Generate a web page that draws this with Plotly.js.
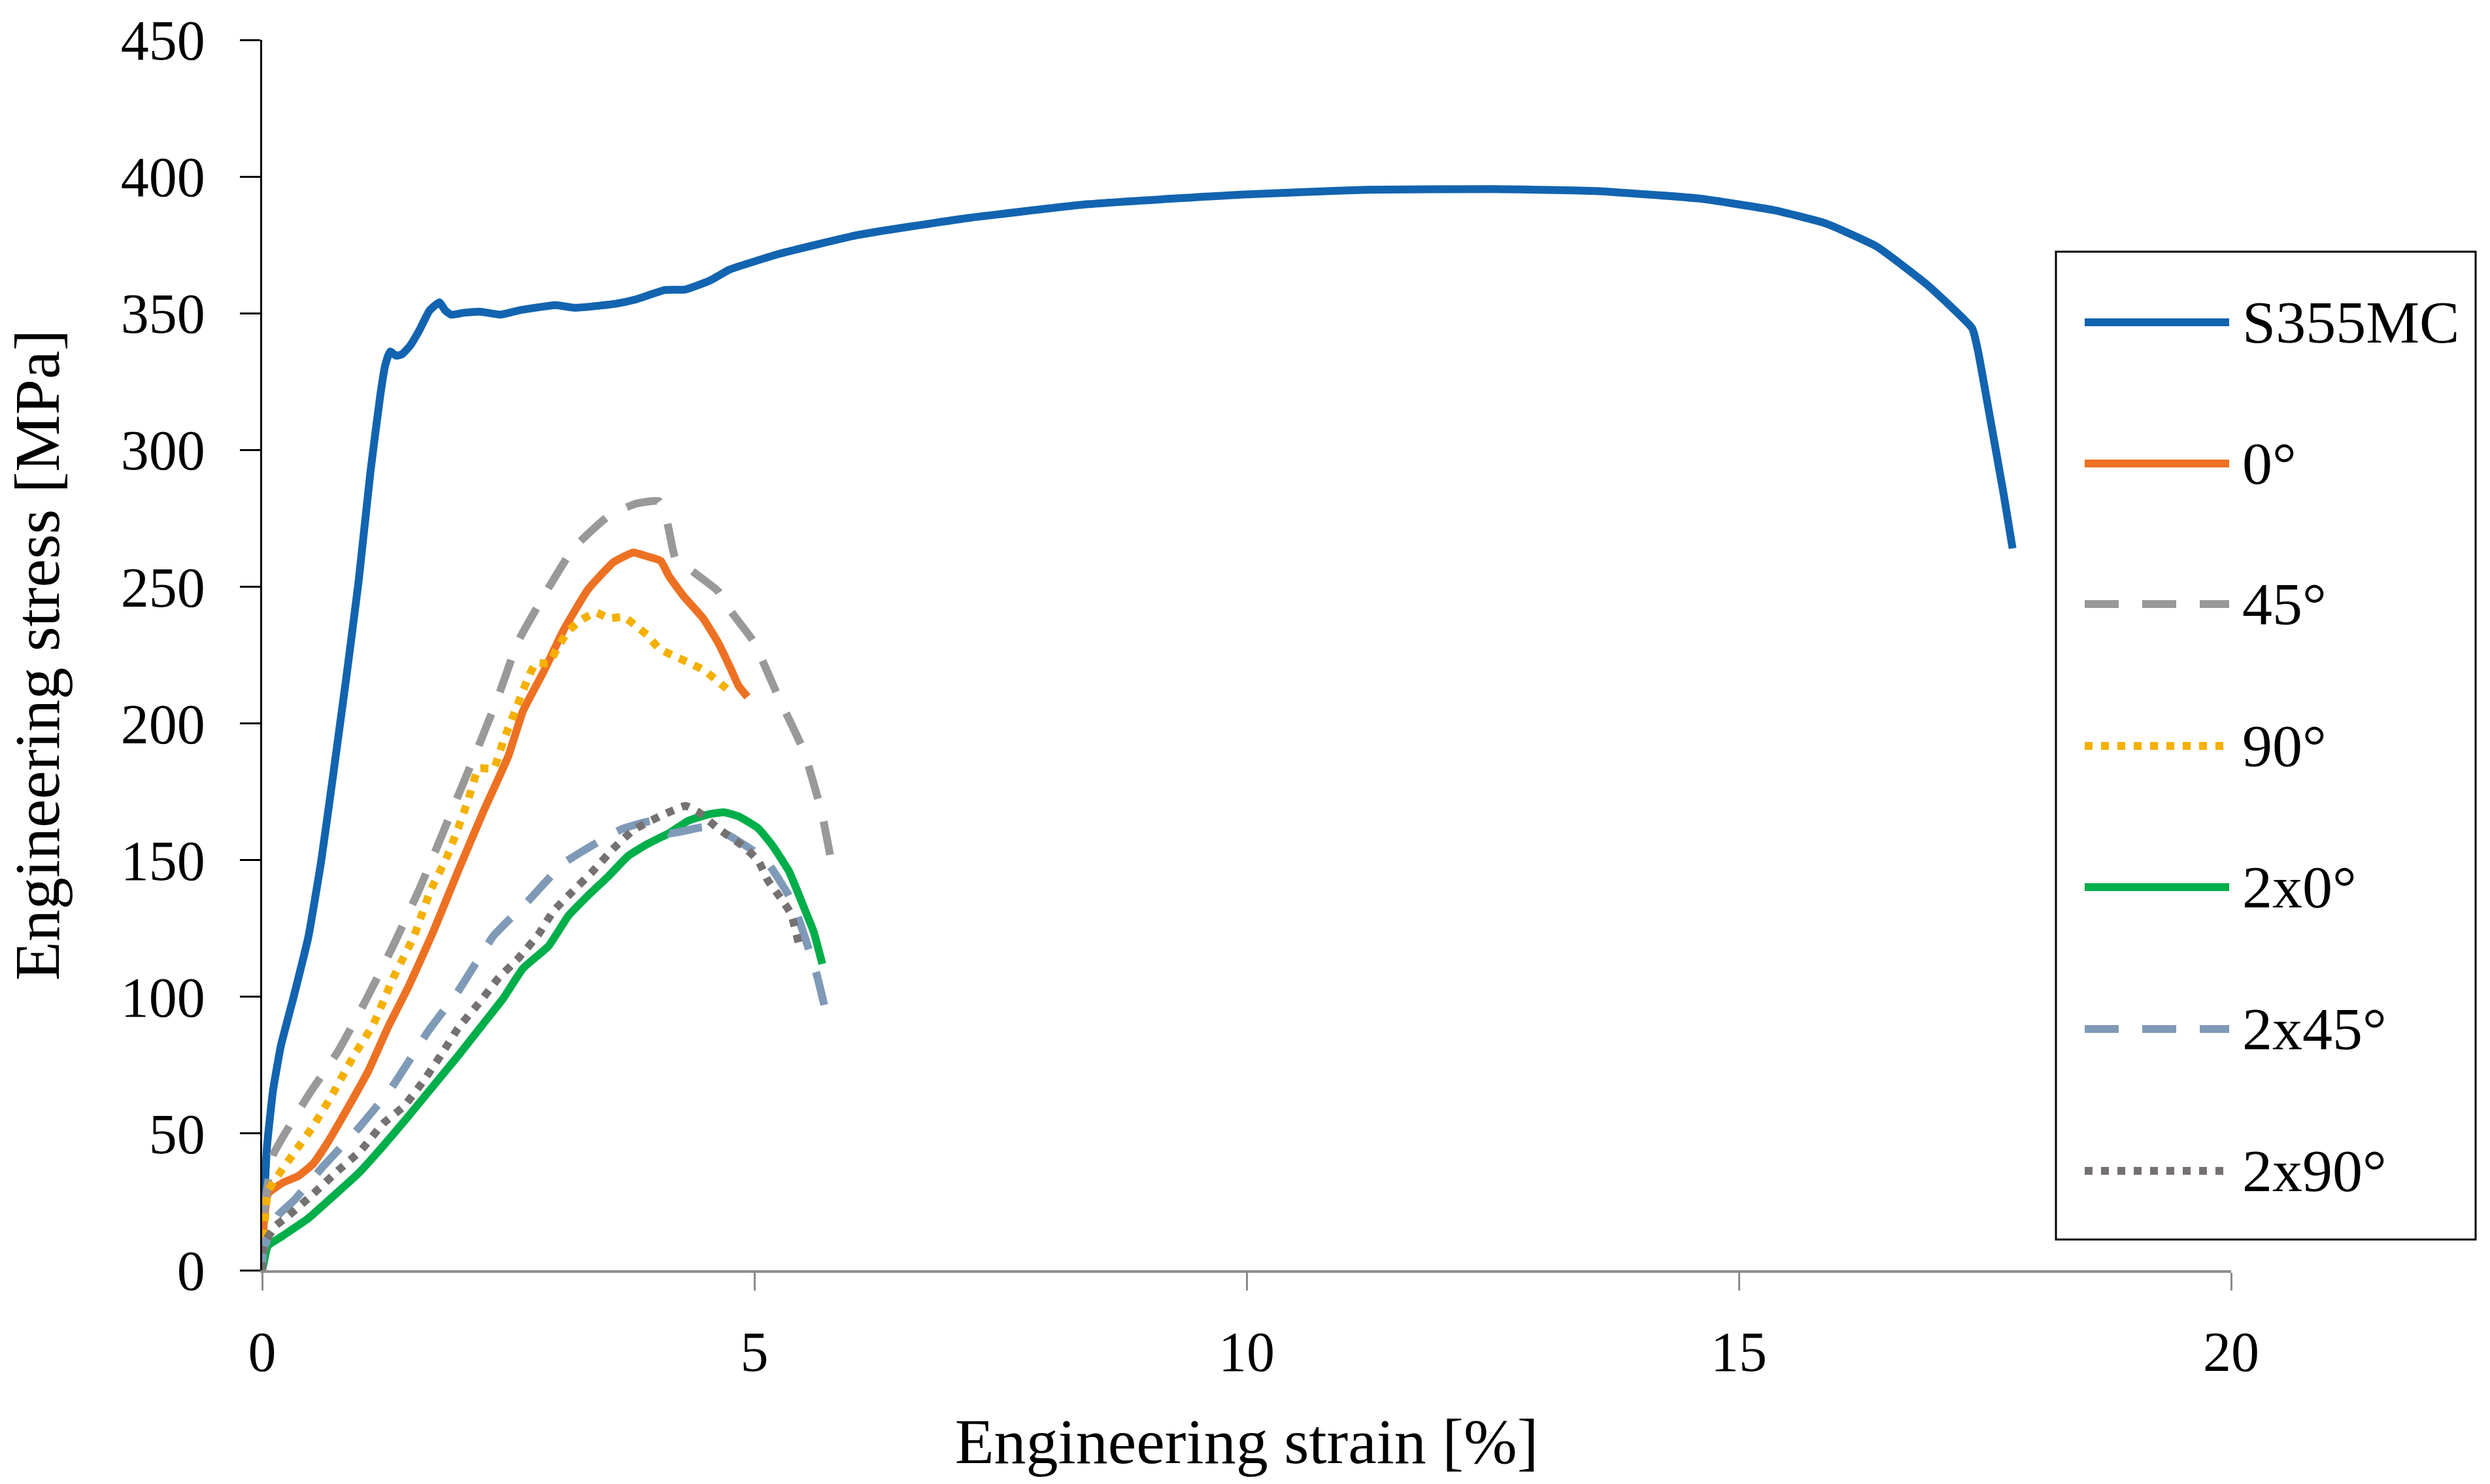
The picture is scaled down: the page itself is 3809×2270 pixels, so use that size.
<!DOCTYPE html>
<html>
<head>
<meta charset="utf-8">
<script src="https://cdn.plot.ly/plotly-3.0.1.min.js"></script>
<style>
html,body{margin:0;padding:0;background:#fff;}
#chart{width:3809px;height:2270px;}
</style>
</head>
<body>
<div id="chart"></div>
<script>
// ---- data (strain %, stress MPa) ----
const seriesNames = ["S355MC", "0°", "45°", "90°", "2x0°", "2x45°", "2x90°"];

const s355mcStrain = [0, 0.02, 0.05, 0.11, 0.19, 0.32, 0.47, 0.6, 0.72, 0.85, 0.98, 1.1, 1.2, 1.25, 1.3, 1.36, 1.42, 1.5, 1.6, 1.7, 1.8, 1.86, 1.92, 2.05, 2.21, 2.42, 2.6, 2.98, 3.18, 3.59, 3.79, 4.09, 4.3, 4.55, 4.75, 5.26, 6.06, 7.1, 8.39, 9.94, 11.23, 12.52, 13.55, 14.59, 15.36, 15.88, 16.4, 16.91, 17.37, 17.43, 17.56, 17.69, 17.78];
const s355mcStress = [0, 23.6, 45.5, 65.6, 82, 100, 122, 149.7, 180.8, 215.5, 252, 292, 320, 331, 336, 334.5, 335, 338, 344, 351, 354, 351, 349.5, 350.2, 350.6, 349.5, 351, 353, 352, 353.5, 355, 358.5, 358.7, 362, 366, 371.8, 378.7, 384.5, 389.9, 393.4, 395.2, 395.4, 394.7, 392, 387.7, 382.9, 374.4, 360.5, 344.5, 336, 310, 283.7, 264];

const deg0Strain = [0, 0.01, 0.06, 0.21, 0.37, 0.52, 0.67, 0.88, 1.08, 1.28, 1.49, 1.74, 1.99, 2.25, 2.5, 2.65, 2.86, 3.06, 3.31, 3.57, 3.77, 3.92, 4.05, 4.13, 4.28, 4.48, 4.64, 4.76, 4.84, 4.93];
const deg0Stress = [0, 14.4, 28, 32, 34.5, 39, 47, 60, 73, 89, 104, 124, 146, 168, 188, 204.6, 219, 234, 249, 259, 262.5, 261, 259.4, 254, 246.6, 238.4, 229, 220, 213.7, 209.7];

const deg45Strain = [0, 0.01, 0.11, 0.47, 0.77, 1.05, 1.33, 1.59, 1.74, 1.99, 2.2, 2.4, 2.6, 2.86, 3.16, 3.52, 3.8, 4.03, 4.1, 4.13, 4.2, 4.33, 4.63, 4.74, 4.99, 5.24, 5.5, 5.68, 5.8];
const deg45Stress = [0, 18, 42, 64, 80, 98.5, 118.6, 138.8, 151.6, 173.5, 191.8, 210, 230, 246.6, 264, 275.9, 280.4, 281.3, 275.9, 271, 260, 256.7, 248.4, 242, 230, 210, 190, 168, 146];

const deg90Strain = [0, 0.01, 0.04, 0.06, 0.16, 0.34, 0.52, 0.72, 0.93, 1.13, 1.33, 1.54, 1.71, 1.87, 1.99, 2.09, 2.2, 2.35, 2.45, 2.58, 2.7, 2.78, 2.91, 3.01, 3.11, 3.24, 3.39, 3.52, 3.67, 3.8, 3.92, 4.03, 4.18, 4.33, 4.48, 4.61, 4.74];
const deg90Stress = [0, 9, 23.6, 29, 34.6, 43.7, 52.8, 64.7, 78.4, 90, 106.8, 122, 138.8, 150.6, 161.6, 171.7, 183.5, 183.5, 193.6, 205.5, 216.5, 222, 222, 228.3, 233.8, 237.8, 240.6, 238.4, 239, 235.6, 232, 227.4, 224.7, 222.3, 219.6, 216, 212];

const x2deg0Strain = [0, 0.01, 0.06, 0.21, 0.47, 0.72, 0.98, 1.23, 1.49, 1.74, 1.99, 2.25, 2.45, 2.65, 2.91, 3.11, 3.31, 3.52, 3.72, 3.92, 4.13, 4.33, 4.53, 4.69, 4.84, 5.04, 5.19, 5.35, 5.5, 5.6, 5.69];
const x2deg0Stress = [0, 1.6, 9, 12.6, 19, 27, 35.5, 45.5, 56.5, 67.5, 78.4, 90.3, 99.5, 110.4, 118.6, 129.6, 137, 144.2, 151.6, 156, 159.8, 164.4, 166.7, 167.5, 166, 161.6, 155, 146, 133, 124, 112];

const x2deg45Strain = [0, 0.01, 0.16, 0.32, 0.62, 0.98, 1.31, 1.69, 1.99, 2.35, 2.7, 3.06, 3.52, 3.67, 3.98, 4.13, 4.48, 4.74, 4.99, 5.14, 5.35, 5.44, 5.55, 5.63, 5.73];
const x2deg45Stress = [0, 7, 20, 25.4, 38, 52, 66.5, 87.6, 102, 122.3, 135, 148.8, 158.9, 161.6, 164.4, 159.8, 162, 159, 153.4, 148.8, 137, 129.6, 117.7, 108.6, 94];

const x2deg90Strain = [0, 0.01, 0.04, 0.14, 0.27, 0.52, 0.77, 1.0, 1.23, 1.44, 1.64, 1.84, 1.99, 2.2, 2.4, 2.6, 2.81, 2.96, 3.16, 3.36, 3.57, 3.77, 4.05, 4.3, 4.43, 4.63, 4.89, 5.04, 5.14, 5.27, 5.37, 5.45];
const x2deg90Stress = [0, 7, 11, 16.3, 20, 28, 36.4, 43.7, 53.7, 60, 69.3, 80, 88.5, 97.6, 106.8, 114, 123, 131.4, 138.8, 146, 154.3, 161, 166.2, 169.8, 167.6, 161.6, 155, 149.7, 142.4, 136, 130.5, 119.6];

const xTickVals = [0, 5, 10, 15, 20];
const yTickVals = [0, 50, 100, 150, 200, 250, 300, 350, 400, 450];
const xTitle = "Engineering strain [%]";
const yTitle = "Engineering stress [MPa]";

// ---- styles ----
const colors = ["#1264B0", "#ED7123", "#999999", "#F5B000", "#00AE4A", "#7F9AB7", "#767171"];
const DASH = "52px,36px";
const DOT = "12px,13px";
const dashes = ["solid", "solid", DASH, DOT, "solid", DASH, DOT];
const LW = 12;
const FONT = "Liberation Serif, Times New Roman, serif";

const xs = [s355mcStrain, deg0Strain, deg45Strain, deg90Strain, x2deg0Strain, x2deg45Strain, x2deg90Strain];
const ys = [s355mcStress, deg0Stress, deg45Stress, deg90Stress, x2deg0Stress, x2deg45Stress, x2deg90Stress];

const traces = seriesNames.map((n, i) => ({
  type: "scatter", mode: "lines", name: n,
  x: xs[i], y: ys[i],
  line: {color: colors[i], width: LW, dash: dashes[i], shape: "spline", smoothing: 0.4},
  showlegend: false, hoverinfo: "skip"
}));

// ---- custom legend (box, line samples, labels) in paper coords ----
const W = 3809, H = 2270;
const mL = 401, mR = W - 3413, mT = 61, mB = H - 1943;
const pw = W - mL - mR, ph = H - mT - mB;
const px2x = p => (p - mL) / pw;
const px2y = p => (H - mB - p) / ph;

const shapes = [{
  type: "rect", xref: "paper", yref: "paper",
  x0: px2x(3145), x1: px2x(3787), y0: px2y(1896), y1: px2y(385),
  line: {color: "#000", width: 3}, fillcolor: "#fff", layer: "above"
}];
const annotations = [];
const entryY = [493, 709, 924, 1141, 1357, 1574, 1791];
seriesNames.forEach((n, i) => {
  shapes.push({
    type: "line", xref: "paper", yref: "paper",
    x0: px2x(3189), x1: px2x(3410), y0: px2y(entryY[i]), y1: px2y(entryY[i]),
    line: {color: colors[i], width: 12, dash: dashes[i]}, layer: "above"
  });
  annotations.push({
    xref: "paper", yref: "paper", x: px2x(3428), y: px2y(entryY[i]),
    xanchor: "left", yanchor: "middle", text: n, showarrow: false,
    font: {family: FONT, size: 92, color: "#000"}
  });
});

const layout = {
  width: W, height: H,
  margin: {l: mL, r: mR, t: mT, b: mB, pad: 0},
  paper_bgcolor: "#fff", plot_bgcolor: "#fff",
  showlegend: false,
  xaxis: {
    range: [0, 20], tickvals: xTickVals, ticktext: xTickVals.map(String),
    showgrid: false, zeroline: false,
    showline: true, linecolor: "#8C8C8C", linewidth: 4,
    ticks: "outside", ticklen: 27, tickwidth: 3, tickcolor: "#8C8C8C",
    tickfont: {family: FONT, size: 86, color: "#000"},
    ticklabelstandoff: 20,
    title: {text: xTitle, font: {family: FONT, size: 98, color: "#000"}, standoff: 55},
    automargin: false, fixedrange: true
  },
  yaxis: {
    range: [0, 450], tickvals: yTickVals, ticktext: yTickVals.map(String),
    showgrid: false, zeroline: false,
    showline: true, linecolor: "#000", linewidth: 3,
    ticks: "outside", ticklen: 31, tickwidth: 3, tickcolor: "#000",
    tickfont: {family: FONT, size: 86, color: "#000"},
    ticklabelstandoff: 36,
    title: {text: yTitle, font: {family: FONT, size: 98, color: "#000"}, standoff: 62},
    automargin: false, fixedrange: true
  },
  shapes: shapes,
  annotations: annotations
};

Plotly.newPlot("chart", traces, layout, {staticPlot: true, displayModeBar: false});
</script>
</body>
</html>
